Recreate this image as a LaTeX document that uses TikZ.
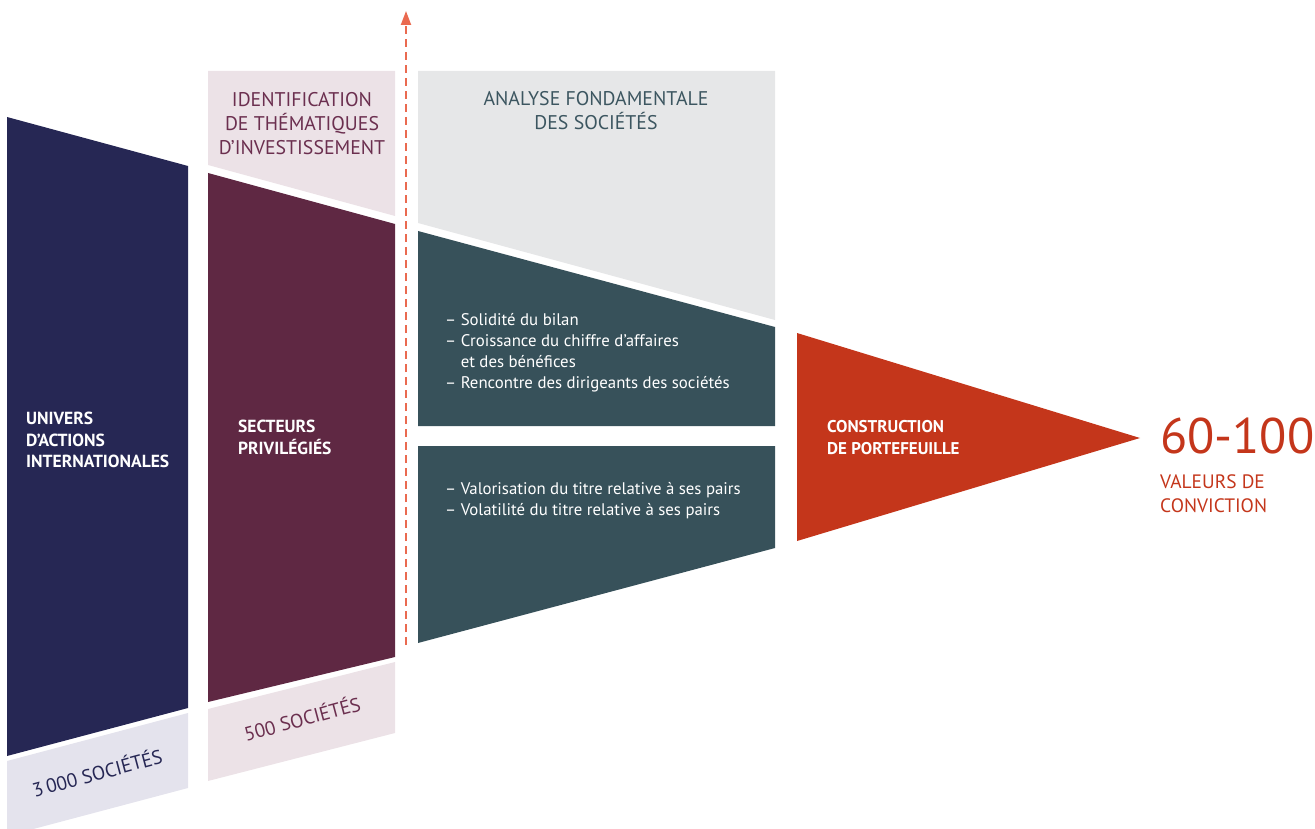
\documentclass[tikz,border=0pt]{standalone}
\usepackage{fontspec}
\setmainfont{PT Sans}
\usetikzlibrary{arrows.meta}
\definecolor{navy}{HTML}{262754}
\definecolor{navylight}{HTML}{E4E3ED}
\definecolor{plum}{HTML}{5F2843}
\definecolor{plumlight}{HTML}{ECE2E7}
\definecolor{plumtext}{HTML}{6B2F4F}
\definecolor{greybox}{HTML}{E6E7E8}
\definecolor{teal}{HTML}{37515A}
\definecolor{tealtext}{HTML}{3C5660}
\definecolor{redfill}{HTML}{C4361B}
\definecolor{dashred}{HTML}{EA6A50}
\tikzset{
  lbl/.style={inner sep=0pt, font=\fontsize{17.5}{21.5}\selectfont\bfseries, text=white, align=left},
  title/.style={inner sep=0pt, font=\fontsize{19.8}{24}\selectfont, align=center},
  bullet/.style={inner sep=0pt, font=\fontsize{16.8}{21}\selectfont, text=white, align=left},
  count/.style={inner sep=0pt, font=\fontsize{19.5}{24}\selectfont, rotate=15},
}
\begin{document}
\begin{tikzpicture}[x=1pt,y=-1pt]
\useasboundingbox (0,0) rectangle (1315,829);
\clip (0,0) rectangle (1315,829);
% column 1
\fill[navy] (7,117) -- (188,166) -- (188,708) -- (7,756) -- cycle;
\fill[navylight] (7,761) -- (188,713) -- (188,788) -- (7,836) -- cycle;
% column 2
\fill[plumlight] (208,71) -- (395,71) -- (395,216) -- (208,165) -- cycle;
\fill[plum] (208,173) -- (395,224) -- (395,657) -- (208,702) -- cycle;
\fill[plumlight] (208,709) -- (395,662) -- (395,733) -- (208,781) -- cycle;
% column 3
\fill[greybox] (418,71) -- (775,71) -- (775,320) -- (418,223) -- cycle;
\fill[teal] (418,231) -- (775,327) -- (775,426) -- (418,426) -- cycle;
\fill[teal] (418,446) -- (775,446) -- (775,548) -- (418,643) -- cycle;
% triangle
\fill[redfill] (797,333) -- (1140,438) -- (797,541) -- cycle;
% dashed arrow
\coordinate (arrS) at (406,645);
\coordinate (arrE) at (406,11);
\draw[dashred, line width=2pt, dash pattern=on 8pt off 5pt, -{Triangle[length=14pt,width=10pt]}] (arrS) -- (arrE);
% texts
\node[lbl, anchor=north west] (univ) at (26,412) {UNIVERS\\D’ACTIONS\\INTERNATIONALES};
\node[lbl, anchor=north west] (sect) at (238,420) {SECTEURS\\PRIVILÉGIÉS};
\node[title, text=plumtext, anchor=north] (ident) at (302,92) {IDENTIFICATION\\DE THÉMATIQUES\\D’INVESTISSEMENT};
\node[title, text=tealtext, anchor=north] (anal) at (596,91) {ANALYSE FONDAMENTALE\\DES SOCIÉTÉS};
\node[bullet, anchor=north west] (b1) at (445,313) {– Solidité du bilan\\– Croissance du chiffre d’affaires\\\hphantom{– }et des bénéfices\\– Rencontre des dirigeants des sociétés};
\node[bullet, anchor=north west] (b2) at (445,482) {– Valorisation du titre relative à ses pairs\\– Volatilité du titre relative à ses pairs};
\node[lbl, anchor=north west, font=\fontsize{17}{22}\selectfont\bfseries] (constr) at (827,420) {CONSTRUCTION\\DE PORTEFEUILLE};
\node[inner sep=0pt, anchor=north west, text=redfill, font=\fontsize{50}{50}\selectfont] (num) at (1160,418) {60-100};
\node[inner sep=0pt, anchor=north west, text=redfill, font=\fontsize{19.4}{24}\selectfont, align=left] (val) at (1160,474) {VALEURS DE\\CONVICTION};
\node[count, text=navy] (c3000) at (97,772) {3\,000 SOCIÉTÉS};
\node[count, text=plumtext] (c500) at (302,718) {500 SOCIÉTÉS};
\end{tikzpicture}
\end{document}
